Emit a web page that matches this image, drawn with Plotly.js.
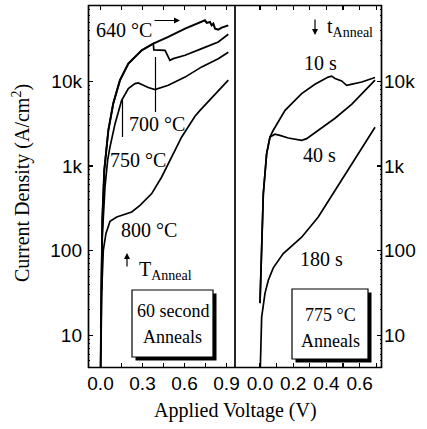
<!DOCTYPE html>
<html>
<head>
<meta charset="utf-8">
<script src="https://cdn.plot.ly/plotly-3.0.1.min.js"></script>
<style>html,body{margin:0;padding:0;background:#fff;}#chart{width:427px;height:429px;}</style>
</head>
<body>
<div id="chart"></div>
<script>
// ---- Data (V in volts, J in A/cm^2) ----
// Left panel: 60 second anneals at various temperatures
const V640 = [0, 0.004, 0.009, 0.013, 0.027, 0.037, 0.056, 0.091, 0.139, 0.199, 0.294, 0.377, 0.484, 0.604, 0.723, 0.746, 0.759, 0.782, 0.794, 0.806, 0.818, 0.841, 0.866, 0.913];
const J640 = [3, 26, 100, 230, 890, 1280, 2640, 5460, 10300, 16200, 23200, 27900, 33400, 41900, 51500, 52500, 48900, 50100, 45800, 48000, 41900, 40800, 43100, 45800];
const V700 = [0, 0.004, 0.009, 0.013, 0.027, 0.037, 0.056, 0.091, 0.139, 0.199, 0.294, 0.377, 0.381, 0.461, 0.496, 0.52, 0.604, 0.723, 0.841, 0.913];
const J700 = [3, 26, 100, 230, 890, 1280, 2640, 5460, 10300, 16200, 23200, 27900, 23500, 23200, 17700, 18500, 20300, 24300, 29100, 35900];
const V750 = [0.002, 0.011, 0.032, 0.051, 0.068, 0.104, 0.151, 0.199, 0.246, 0.27, 0.306, 0.341, 0.389, 0.413, 0.484, 0.604, 0.723, 0.841, 0.913];
const J750 = [12, 132, 560, 1170, 1680, 3160, 5970, 8200, 9390, 9550, 8970, 8430, 7980, 8200, 8970, 11200, 14800, 18500, 22000];
const V800 = [0.009, 0.016, 0.020, 0.039, 0.068, 0.116, 0.175, 0.223, 0.282, 0.366, 0.437, 0.509, 0.580, 0.675, 0.711, 0.913];
const J800 = [34, 64, 101, 160, 222, 250, 269, 286, 343, 472, 741, 1280, 2200, 3870, 4540, 10300];
// Right panel: 775 C anneals of various durations
const V10s = [0, 0.010, 0.020, 0.040, 0.060, 0.080, 0.151, 0.191, 0.251, 0.331, 0.411, 0.432, 0.452, 0.492, 0.522, 0.542, 0.613, 0.693];
const J10s = [24, 121, 472, 1400, 2200, 2640, 4540, 5460, 7160, 9220, 11200, 11500, 10800, 10100, 8970, 9140, 9810, 11100];
const V40s = [0, 0.010, 0.020, 0.040, 0.060, 0.090, 0.120, 0.170, 0.251, 0.281, 0.351, 0.452, 0.552, 0.693];
const J40s = [24, 121, 472, 1400, 2200, 2370, 2300, 2140, 2010, 2100, 2640, 3660, 5350, 10300];
const V180s = [0, 0.006, 0.010, 0.020, 0.030, 0.050, 0.080, 0.140, 0.251, 0.351, 0.452, 0.693];
const J180s = [3, 8.7, 16.4, 22.6, 31.3, 44.7, 62.7, 92.3, 144, 250, 516, 2870];

// Tick labels
const leftXTicks = [0, 0.3, 0.6, 0.9];
const leftXText = ['0.0', '0.3', '0.6', '0.9'];
const leftXMinor = [0.15, 0.45, 0.75];
const rightXTicks = [0, 0.2, 0.4, 0.6];
const rightXText = ['0.0', '0.2', '0.4', '0.6'];
const rightXMinor = [0.1, 0.3, 0.5, 0.7];
const yTicks = [10, 100, 1000, 10000];
const yText = ['10', '100', '1k', '10k'];

// ---- Layout helpers (pixel -> paper) ----
const L = 88, R = 382, T = 5, B = 368;
const P = x => (x - L) / (R - L);
const Q = y => (B - y) / (B - T);

const minorY = [];
[1, 10, 100, 1000, 10000].forEach(d => { for (let k = 2; k <= 9; k++) minorY.push(k * d); });

const mk = (x, y, xa, ya, name, w) => ({x, y, xaxis: xa, yaxis: ya, type: 'scatter', mode: 'lines', name,
  line: {color: 'black', width: w || 1.7}, showlegend: false, hoverinfo: 'skip'});

const traces = [
  mk(V640, J640, 'x', 'y', '640 °C', 2.0),
  mk(V700, J700, 'x', 'y', '700 °C', 1.7),
  mk(V750, J750, 'x', 'y', '750 °C', 1.7),
  mk(V800, J800, 'x', 'y', '800 °C', 1.7),
  mk(V10s, J10s, 'x2', 'y2', '10 s', 1.7),
  mk(V40s, J40s, 'x2', 'y2', '40 s', 1.7),
  mk(V180s, J180s, 'x2', 'y2', '180 s', 1.7)
];

const tickFont = {family: 'Liberation Sans, Arial, sans-serif', size: 19, color: 'black'};
const serif = 'Liberation Serif, Times New Roman, serif';

const xBase = {
  showline: false, mirror: 'ticks',
  ticks: 'inside', ticklen: 5, tickwidth: 1.2, tickcolor: 'black',
  showgrid: false, zeroline: false, tickfont: tickFont, ticklabelstandoff: 2
};
const yBase = {
  type: 'log', range: [0.614, 4.901], tickvals: yTicks, ticktext: yText,
  showline: false, mirror: false,
  ticks: 'inside', ticklen: 5, tickwidth: 1.2, tickcolor: 'black',
  minor: {tickvals: minorY, ticks: 'inside', ticklen: 2, tickwidth: 1, tickcolor: 'black', showgrid: false},
  showgrid: false, zeroline: false, tickfont: tickFont
};

const ann = (text, x, y, size, extra) => Object.assign({
  text, x: P(x), y: Q(y), xref: 'paper', yref: 'paper', showarrow: false,
  xanchor: 'center', yanchor: 'middle', font: {family: serif, size: size || 20, color: 'black'}
}, extra || {});

const arrow = (x, y, ax, ay) => ({
  text: '', x: P(x), y: Q(y), xref: 'paper', yref: 'paper', showarrow: true,
  ax, ay, arrowhead: 2, arrowsize: 1, arrowwidth: 1.2, arrowcolor: 'black', standoff: 0
});

const frameLine = {color: 'black', width: 1.7};
const hl = (py) => ({type: 'line', xref: 'paper', yref: 'paper', x0: 0, x1: 1, y0: Q(py), y1: Q(py), line: frameLine, layer: 'above'});
const vl = (px) => ({type: 'line', xref: 'paper', yref: 'paper', x0: P(px), x1: P(px), y0: 0, y1: 1, line: frameLine, layer: 'above'});

const layout = {
  width: 427, height: 429,
  margin: {l: L, r: 427 - R, t: T, b: 429 - B, pad: 0},
  paper_bgcolor: 'white', plot_bgcolor: 'white',
  showlegend: false,
  xaxis: Object.assign({}, xBase, {domain: [0, 0.5], anchor: 'y', range: [-0.0893, 0.9607], tickvals: leftXTicks, ticktext: leftXText,
    minor: {tickvals: leftXMinor, ticks: 'inside', ticklen: 5, tickwidth: 1.2, tickcolor: 'black', showgrid: false}}),
  xaxis2: Object.assign({}, xBase, {domain: [0.5, 1], anchor: 'y2', range: [-0.1506, 0.735], tickvals: rightXTicks, ticktext: rightXText,
    minor: {tickvals: rightXMinor, ticks: 'inside', ticklen: 5, tickwidth: 1.2, tickcolor: 'black', showgrid: false}}),
  yaxis: Object.assign({}, yBase, {anchor: 'x', side: 'left', ticklabelstandoff: 5}),
  yaxis2: Object.assign({}, yBase, {anchor: 'x2', side: 'right', ticklabelstandoff: 1}),
  shapes: [
    // plot frame and panel divider
    hl(5.5), hl(367.5), vl(88.5), vl(381.5), vl(235),
    // pointer lines
    {type: 'line', xref: 'paper', yref: 'paper', x0: P(155.5), x1: P(155.5), y0: Q(57), y1: Q(112), line: {color: 'black', width: 1.2}},
    {type: 'line', xref: 'paper', yref: 'paper', x0: P(122.5), x1: P(122.5), y0: Q(100), y1: Q(137), line: {color: 'black', width: 1.2}},
    // left box with shadow
    {type: 'rect', xref: 'paper', yref: 'paper', x0: P(135.5), x1: P(216.5), y0: Q(360.5), y1: Q(293.5), fillcolor: 'black', line: {width: 0}},
    {type: 'rect', xref: 'paper', yref: 'paper', x0: P(132), x1: P(213), y0: Q(357), y1: Q(290), fillcolor: 'white', line: {color: 'black', width: 1.2}},
    // right box with shadow
    {type: 'rect', xref: 'paper', yref: 'paper', x0: P(295.5), x1: P(371.5), y0: Q(362.5), y1: Q(292.5), fillcolor: 'black', line: {width: 0}},
    {type: 'rect', xref: 'paper', yref: 'paper', x0: P(292), x1: P(368), y0: Q(359), y1: Q(289), fillcolor: 'white', line: {color: 'black', width: 1.2}}
  ],
  annotations: [
    ann('640 °C', 124, 30),
    ann('700 °C', 157, 124),
    ann('750 °C', 137.5, 160),
    ann('800 °C', 149, 230),
    ann('T<sub>Anneal</sub>', 137, 270, 20, {xanchor: 'left'}),
    ann('60 second', 172.5, 311, 18),
    ann('Anneals', 172.5, 337, 18),
    ann('t<sub>Anneal</sub>', 325, 28, 20, {xanchor: 'left'}),
    ann('10 s', 320, 63),
    ann('40 s', 319, 155),
    ann('180 s', 321, 259),
    ann('775 °C', 330, 315, 18),
    ann('Anneals', 330, 341, 18),
    arrow(180, 20.5, -27, 0),
    arrow(127, 253, 0, 15),
    arrow(315, 35, 0, -17),
    ann('Applied Voltage (V)', 235, 410, 20),
    ann('Current Density (A/cm<sup>2</sup>)', 22, 183, 20, {textangle: -90})
  ]
};

Plotly.newPlot('chart', traces, layout, {staticPlot: true, displayModeBar: false});
</script>
</body>
</html>
